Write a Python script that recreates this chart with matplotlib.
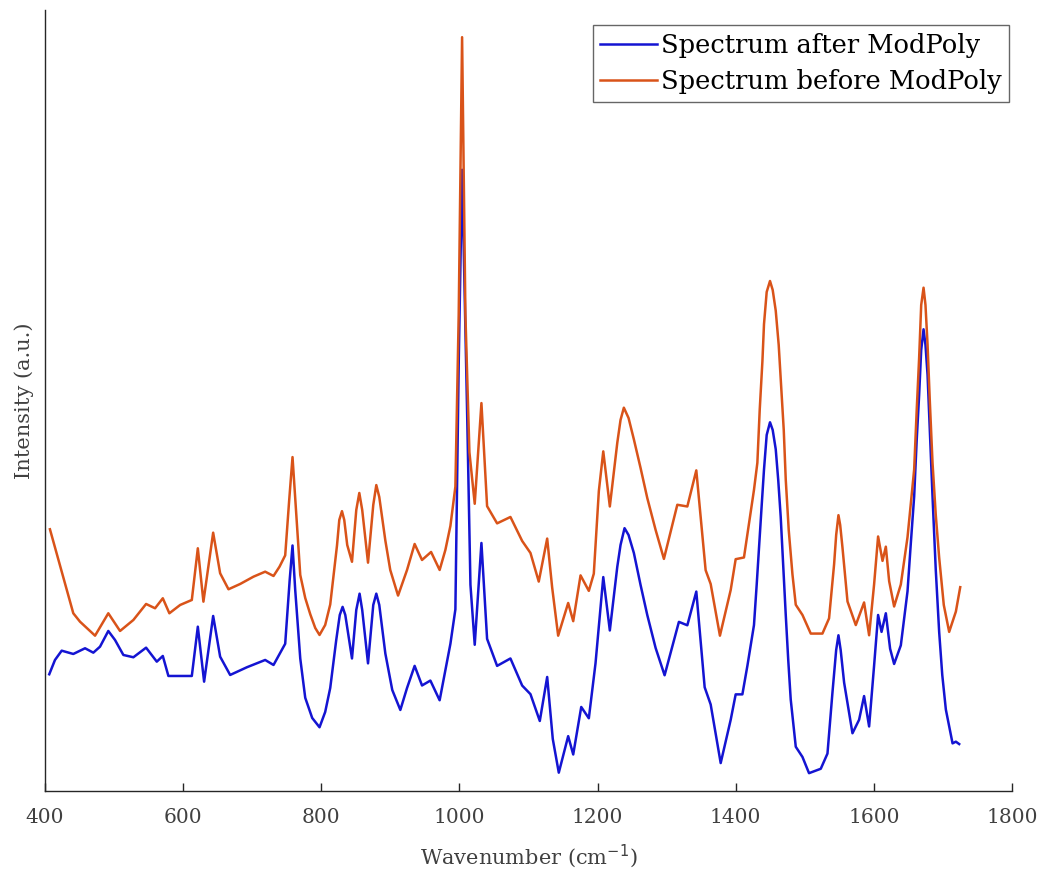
import matplotlib
matplotlib.use("Agg")
import matplotlib.pyplot as plt

# Raman spectrum, wavenumber (cm^-1) vs intensity (a.u.), raw signal
wn_before = [407.2, 441.0, 450.7, 472.5, 491.7, 508.7, 528.0, 546.4, 559.4, 570.6,
             580.1, 595.7, 612.6, 621.3, 629.4, 643.5, 653.6, 665.7, 682.6, 701.9,
             718.8, 730.9, 739.6, 747.8, 753.6, 758.4, 763.0, 769.6, 776.8, 784.1,
             791.3, 797.5, 805.7, 813.0, 822.8, 826.1, 830.0, 833.3, 837.6, 844.5,
             850.7, 855.1, 859.3, 867.7, 875.3, 879.7, 884.0, 892.8, 899.9, 911.2,
             924.2, 935.2, 945.9, 959.0, 971.4, 979.7, 987.0, 994.2, 999.0, 1003.9,
             1008.7, 1014.5, 1022.2, 1031.9, 1040.1, 1054.6, 1073.9, 1090.9, 1102.9, 1114.9,
             1127.1, 1134.3, 1143.0, 1157.5, 1164.8, 1175.4, 1187.4, 1194.6, 1201.9, 1208.3,
             1217.8, 1228.6, 1233.3, 1238.1, 1244.9, 1252.6, 1262.3, 1272.0, 1284.1, 1296.1,
             1315.5, 1330.0, 1343.0, 1356.5, 1363.8, 1377.2, 1392.8, 1400.0, 1412.0, 1419.3,
             1426.5, 1431.4, 1434.8, 1438.7, 1441.0, 1444.9, 1449.7, 1453.6, 1458.0, 1462.3,
             1465.2, 1469.6, 1472.5, 1476.8, 1482.2, 1487.0, 1496.7, 1508.7, 1525.6, 1535.2,
             1542.5, 1545.5, 1548.8, 1551.3, 1554.6, 1561.9, 1573.9, 1585.9, 1593.2, 1600.4,
             1606.2, 1612.6, 1617.4, 1622.2, 1629.4, 1639.1, 1648.8, 1653.4, 1658.4, 1662.1,
             1665.6, 1668.6, 1672.0, 1674.8, 1677.8, 1681.0, 1685.0, 1689.7, 1694.6, 1701.3,
             1709.1, 1718.8, 1725.1]
int_before = [261.7, 177.7, 169.3, 155.3, 177.7, 160.0, 171.0, 187.0, 182.7, 192.7,
              177.7, 186.0, 191.0, 242.7, 189.3, 258.3, 217.7, 201.7, 207.0, 214.3,
              219.3, 215.0, 224.3, 235.6, 291.0, 333.9, 286.0, 216.0, 193.0, 176.7,
              163.0, 156.0, 166.0, 186.5, 245.5, 271.0, 279.8, 271.0, 246.0, 229.2,
              281.0, 298.0, 281.0, 228.3, 286.0, 305.9, 294.0, 250.4, 221.0, 195.4,
              221.0, 247.0, 231.0, 239.0, 221.0, 241.0, 265.1, 304.4, 476.3, 753.8,
              476.3, 338.8, 287.2, 387.9, 284.8, 267.6, 274.0, 250.0, 238.0, 209.4,
              252.4, 203.5, 155.3, 188.0, 169.8, 215.6, 200.1, 217.3, 300.0, 339.6,
              284.5, 348.2, 371.0, 383.3, 373.0, 351.6, 323.0, 293.0, 261.0, 232.1,
              286.2, 284.5, 320.6, 220.8, 207.0, 155.3, 201.0, 231.8, 233.5, 267.3,
              301.1, 328.2, 381.0, 429.6, 466.8, 499.0, 510.0, 501.0, 480.3, 446.0,
              412.7, 361.0, 311.3, 261.0, 216.6, 186.2, 176.0, 157.4, 157.4, 172.6,
              226.7, 256.0, 275.8, 266.0, 243.6, 189.5, 165.9, 188.5, 155.7, 206.5,
              254.5, 230.1, 244.3, 209.8, 184.5, 206.5, 253.8, 286.0, 321.4, 381.0,
              433.0, 486.0, 503.3, 486.0, 446.5, 391.0, 328.2, 276.0, 233.5, 186.0,
              159.1, 179.4, 203.8]

# Same spectrum after ModPoly baseline removal
wn_after = [406.2, 414.5, 424.2, 441.0, 458.0, 470.0, 479.7, 491.7, 501.4, 513.5,
            528.0, 546.4, 561.9, 570.6, 578.7, 595.7, 612.6, 621.3, 630.4, 643.5,
            653.6, 668.1, 692.3, 718.8, 730.9, 739.6, 747.8, 754.3, 758.4, 762.3,
            769.6, 776.8, 786.9, 797.5, 805.7, 813.0, 821.7, 826.8, 830.9, 834.8,
            844.5, 850.7, 855.5, 859.3, 867.7, 875.3, 879.7, 884.0, 892.8, 902.8,
            914.5, 924.2, 935.2, 945.9, 958.0, 971.4, 987.0, 994.2, 999.0, 1003.9,
            1011.2, 1016.0, 1022.2, 1031.9, 1040.1, 1054.6, 1073.9, 1090.9, 1102.9, 1116.4,
            1127.1, 1135.2, 1143.9, 1157.5, 1164.8, 1176.4, 1187.4, 1197.1, 1208.3, 1217.8,
            1228.6, 1233.3, 1239.1, 1244.9, 1252.6, 1262.3, 1272.0, 1284.1, 1297.1, 1317.8,
            1330.0, 1343.0, 1355.1, 1363.8, 1378.3, 1392.8, 1400.0, 1409.7, 1417.0, 1426.5,
            1430.4, 1433.8, 1437.7, 1441.0, 1444.9, 1449.7, 1453.6, 1458.0, 1461.6, 1465.2,
            1468.8, 1472.5, 1476.1, 1479.7, 1487.0, 1496.7, 1506.2, 1523.2, 1532.9, 1540.1,
            1545.5, 1548.8, 1552.0, 1557.0, 1569.1, 1578.7, 1585.9, 1593.2, 1600.4, 1606.2,
            1611.2, 1617.4, 1623.6, 1629.4, 1639.1, 1648.8, 1653.4, 1658.4, 1662.1, 1665.6,
            1668.6, 1672.0, 1674.8, 1677.8, 1681.0, 1685.0, 1689.7, 1694.6, 1699.1, 1704.3,
            1714.0, 1718.8, 1723.6]
int_after = [116.7, 131.0, 140.3, 137.0, 142.7, 138.3, 144.3, 160.0, 151.0, 136.0,
             133.7, 143.3, 129.3, 135.0, 115.0, 115.0, 115.0, 164.3, 109.3, 175.0,
             134.3, 116.0, 123.7, 131.0, 126.0, 137.0, 147.2, 211.0, 245.5, 201.0,
             132.5, 93.2, 73.0, 63.7, 79.0, 103.0, 151.0, 176.0, 184.1, 176.0,
             132.5, 181.0, 197.3, 181.0, 127.6, 186.0, 197.3, 186.0, 137.4, 101.0,
             81.0, 103.0, 125.1, 105.5, 110.4, 90.7, 147.2, 181.6, 427.2, 621.2,
             378.0, 206.2, 146.2, 248.0, 152.1, 125.1, 132.5, 105.4, 96.8, 70.0,
             114.0, 52.0, 18.3, 54.8, 36.5, 84.0, 72.7, 127.8, 213.9, 160.5,
             224.2, 246.0, 262.8, 256.0, 238.0, 206.0, 176.0, 143.0, 115.7, 169.1,
             165.7, 199.4, 103.7, 86.5, 27.9, 71.2, 96.6, 96.6, 125.3, 165.9,
             206.0, 243.6, 286.0, 321.4, 356.0, 368.7, 361.0, 341.7, 311.0, 274.1,
             226.0, 176.0, 131.0, 91.5, 44.2, 34.0, 17.8, 22.2, 37.4, 98.3,
             141.0, 155.7, 141.0, 108.4, 57.7, 71.2, 94.9, 64.5, 125.3, 176.0,
             159.1, 177.7, 142.2, 127.0, 145.6, 199.7, 246.0, 294.4, 351.0, 395.8,
             441.0, 461.7, 446.0, 416.1, 361.0, 294.4, 221.0, 159.1, 116.0, 81.4,
             47.6, 49.3, 46.9]

x_ticks = [400, 600, 800, 1000, 1200, 1400, 1600, 1800]

plt.rcParams["font.family"] = ["DejaVu Serif"]

fig = plt.figure(figsize=(10.41, 8.69), dpi=100)
ax = fig.add_axes([0.0432, 0.0898, 0.9289, 0.8987])

ax.plot(wn_after, int_after, color="#1414d2", lw=1.8, label="Spectrum after ModPoly")
ax.plot(wn_before, int_before, color="#D95319", lw=1.8, label="Spectrum before ModPoly")

ax.set_xlim(400, 1800)
ax.set_ylim(0, 781)
ax.set_xticks(x_ticks)
ax.set_yticks([])
ax.tick_params(axis="x", direction="in", length=6, width=1, colors="#262626",
               labelsize=14.5, pad=12, labelcolor="#404040")
for side in ("top", "right"):
    ax.spines[side].set_visible(False)
for side in ("left", "bottom"):
    ax.spines[side].set_color("#262626")
    ax.spines[side].set_linewidth(1.0)

ax.set_xlabel("Wavenumber (cm$^{-1}$)", fontsize=15, color="#404040", labelpad=11)
ax.set_ylabel("Intensity (a.u.)", fontsize=15, color="#404040", labelpad=8)

leg = ax.legend(loc="upper right", bbox_to_anchor=(0.997, 0.981), borderaxespad=0,
                fontsize=18.5, frameon=True, fancybox=False, handlelength=2.2,
                handletextpad=0.15, borderpad=0.3, labelspacing=0.45)
leg.get_frame().set_edgecolor("#404040")
leg.get_frame().set_linewidth(1.0)

fig.savefig("out.png", dpi=100)
